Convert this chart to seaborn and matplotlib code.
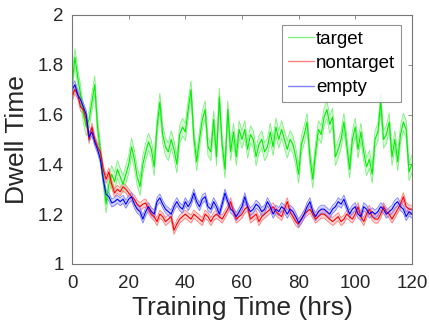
import numpy as np
import pandas as pd
import matplotlib
matplotlib.use("Agg")
import matplotlib.pyplot as plt
from matplotlib.lines import Line2D
import seaborn as sns

# values, one per hour (0..120)
hours = list(range(121))

target = [
    1.72, 1.83, 1.75, 1.68, 1.60, 1.55, 1.58, 1.65, 1.72, 1.55,
    1.45, 1.35, 1.24, 1.32, 1.36, 1.33, 1.38, 1.35, 1.32, 1.36,
    1.40, 1.47, 1.42, 1.35, 1.31, 1.40, 1.45, 1.49, 1.46, 1.39,
    1.55, 1.65, 1.52, 1.47, 1.45, 1.50, 1.46, 1.40, 1.52, 1.55,
    1.53, 1.62, 1.70, 1.51, 1.41, 1.50, 1.58, 1.62, 1.47, 1.45,
    1.58, 1.43, 1.67, 1.48, 1.38, 1.62, 1.45, 1.53, 1.43, 1.54,
    1.50, 1.54, 1.46, 1.52, 1.50, 1.43, 1.48, 1.50, 1.45, 1.47,
    1.53, 1.47, 1.55, 1.50, 1.54, 1.50, 1.46, 1.50, 1.48, 1.43,
    1.36, 1.48, 1.52, 1.57, 1.43, 1.34, 1.45, 1.54, 1.52, 1.59,
    1.62, 1.56, 1.59, 1.43, 1.46, 1.50, 1.57, 1.48, 1.38, 1.50,
    1.55, 1.46, 1.53, 1.45, 1.39, 1.42, 1.36, 1.50, 1.53, 1.65,
    1.50, 1.52, 1.57, 1.43, 1.50, 1.41, 1.52, 1.57, 1.54, 1.37,
    1.40,
]

nontarget = [
    1.67, 1.70, 1.68, 1.63, 1.62, 1.58, 1.50, 1.55, 1.50, 1.47,
    1.45, 1.38, 1.34, 1.37, 1.32, 1.285, 1.30, 1.29, 1.31, 1.30,
    1.285, 1.27, 1.26, 1.24, 1.23, 1.24, 1.245, 1.22, 1.20, 1.19,
    1.17, 1.20, 1.19, 1.17, 1.18, 1.19, 1.135, 1.16, 1.18, 1.19,
    1.20, 1.19, 1.18, 1.20, 1.19, 1.18, 1.17, 1.20, 1.19, 1.17,
    1.19, 1.20, 1.19, 1.18, 1.20, 1.22, 1.25, 1.21, 1.18, 1.19,
    1.20, 1.22, 1.23, 1.18, 1.19, 1.20, 1.17, 1.19, 1.20, 1.21,
    1.22, 1.23, 1.21, 1.20, 1.19, 1.22, 1.25, 1.21, 1.19, 1.17,
    1.16, 1.18, 1.20, 1.21, 1.22, 1.20, 1.18, 1.19, 1.20, 1.20,
    1.19, 1.18, 1.17, 1.18, 1.19, 1.17, 1.18, 1.20, 1.19, 1.18,
    1.20, 1.23, 1.19, 1.17, 1.20, 1.22, 1.19, 1.18, 1.18, 1.20,
    1.23, 1.21, 1.20, 1.18, 1.20, 1.22, 1.24, 1.27, 1.23, 1.22,
    1.22,
]

empty = [
    1.70, 1.72, 1.68, 1.66, 1.63, 1.60, 1.51, 1.53, 1.49, 1.46,
    1.42, 1.34, 1.28, 1.27, 1.245, 1.25, 1.26, 1.25, 1.26, 1.24,
    1.26, 1.27, 1.24, 1.22, 1.21, 1.18, 1.21, 1.23, 1.21, 1.20,
    1.25, 1.265, 1.24, 1.22, 1.21, 1.20, 1.23, 1.25, 1.23, 1.22,
    1.25, 1.23, 1.25, 1.285, 1.25, 1.23, 1.26, 1.27, 1.23, 1.22,
    1.25, 1.23, 1.20, 1.24, 1.285, 1.25, 1.22, 1.21, 1.19, 1.21,
    1.23, 1.27, 1.23, 1.21, 1.22, 1.24, 1.23, 1.21, 1.22, 1.25,
    1.23, 1.20, 1.22, 1.21, 1.23, 1.22, 1.20, 1.22, 1.21, 1.19,
    1.165, 1.18, 1.20, 1.23, 1.25, 1.21, 1.19, 1.21, 1.22, 1.22,
    1.21, 1.20, 1.22, 1.23, 1.25, 1.24, 1.26, 1.23, 1.20, 1.22,
    1.23, 1.20, 1.19, 1.23, 1.22, 1.20, 1.21, 1.20, 1.21, 1.23,
    1.22, 1.20, 1.21, 1.22, 1.24, 1.25, 1.23, 1.22, 1.19, 1.21,
    1.20,
]

# half width of the shaded error band for each group
band = {"target": 0.035, "nontarget": 0.016, "empty": 0.016}

groups = ["target", "nontarget", "empty"]
main_colors = {"target": "#00ee00", "nontarget": "#ff0000", "empty": "#0000ff"}
light_colors = {"target": "#80f080", "nontarget": "#ff8080", "empty": "#8080ff"}

df = pd.DataFrame({
    "hours": hours * 3,
    "dwell": target + nontarget + empty,
    "group": ["target"] * len(hours) + ["nontarget"] * len(hours) + ["empty"] * len(hours),
})

sns.set_style("white")
plt.rcParams["font.family"] = ["Liberation Sans", "DejaVu Sans"]

fig = plt.figure(figsize=(4.29, 3.32), dpi=100)
ax = fig.add_axes([0.168, 0.205, 0.792, 0.75])

for g in groups:
    sub = df[df["group"] == g]
    lo = sub["dwell"] - band[g]
    hi = sub["dwell"] + band[g]
    ax.fill_between(sub["hours"], lo, hi, color=light_colors[g], alpha=0.35, lw=0)
    ax.plot(sub["hours"], lo, color=light_colors[g], lw=0.6)
    ax.plot(sub["hours"], hi, color=light_colors[g], lw=0.6)

sns.lineplot(data=df, x="hours", y="dwell", hue="group", palette=main_colors,
             hue_order=groups, ax=ax, lw=0.8, legend=False)

ax.set_xlim(0, 120)
ax.set_ylim(1, 2)
ax.set_xticks(range(0, 121, 20))
ax.set_yticks([1, 1.2, 1.4, 1.6, 1.8, 2])
ax.set_yticklabels(["1", "1.2", "1.4", "1.6", "1.8", "2"])

text_color = "#262626"
ax.tick_params(direction="in", length=3, width=0.6, colors="#777777",
               labelcolor=text_color, labelsize=13.5, top=True, right=True)
ax.tick_params(axis="x", pad=8)
ax.tick_params(axis="y", pad=6)
for s in ax.spines.values():
    s.set_visible(True)
    s.set_color("#777777")
    s.set_linewidth(0.8)

ax.set_xlabel("Training Time (hrs)", fontsize=19, color=text_color, labelpad=3)
ax.set_ylabel("Dwell Time", fontsize=19, color=text_color, labelpad=6)

handles = [Line2D([0], [0], color=light_colors[g], lw=1) for g in groups]
leg = ax.legend(handles, groups, loc="upper right", bbox_to_anchor=(0.968, 0.96),
                fontsize=13.5, frameon=True, fancybox=False, handlelength=1.4,
                handletextpad=0.1, borderpad=0.3, labelspacing=0.38,
                borderaxespad=0)
leg.get_frame().set_edgecolor("#777777")
leg.get_frame().set_linewidth(0.8)
for t in leg.get_texts():
    t.set_color("black")

fig.savefig("out.png", dpi=100)
